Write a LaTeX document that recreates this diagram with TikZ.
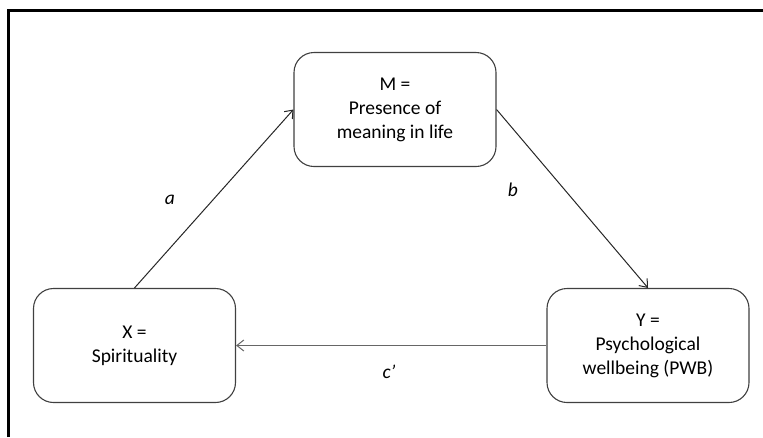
\documentclass[tikz,border=0pt]{standalone}
\usepackage{fontspec}
\setmainfont{Carlito}
\usetikzlibrary{arrows.meta}

\tikzset{
  varbox/.style={draw=black!75, line width=1.1pt, rounded corners=20pt, fill=white,
    minimum width=202pt, minimum height=114pt, align=center,
    font=\fontsize{19.5}{24}\selectfont},
  path/.style={draw=black!85, line width=1pt, -{Straight Barb[length=7pt,width=11pt]}},
  lbl/.style={font=\fontsize{19.5}{24}\selectfont\itshape}
}

\begin{document}
\begin{tikzpicture}[x=1pt,y=1pt]
\useasboundingbox (0,0) rectangle (763,-437);
% frame
\draw[line width=3pt] (8,-437) -- (8,-10) -- (763,-10);
% variables
\node[varbox] (M) at (395,-109.5) {M =\\Presence of\\meaning in life};
\node[varbox] (X) at (134.5,-345.5) {X =\\Spirituality};
\node[varbox] (Y) at (648,-345.5) {Y =\\Psychological\\wellbeing (PWB)};
% paths
\draw[path] (X.north) -- (M.west);
\draw[path] (M.east) -- (Y.north);
\draw[path, draw=black!60] (Y.west) -- (X.east);
% labels
\node[lbl] (la) at (170,-200) {a};
\node[lbl] (lb) at (513,-190) {b};
\node[lbl] (lc) at (389,-372) {c’};
\end{tikzpicture}
\end{document}
